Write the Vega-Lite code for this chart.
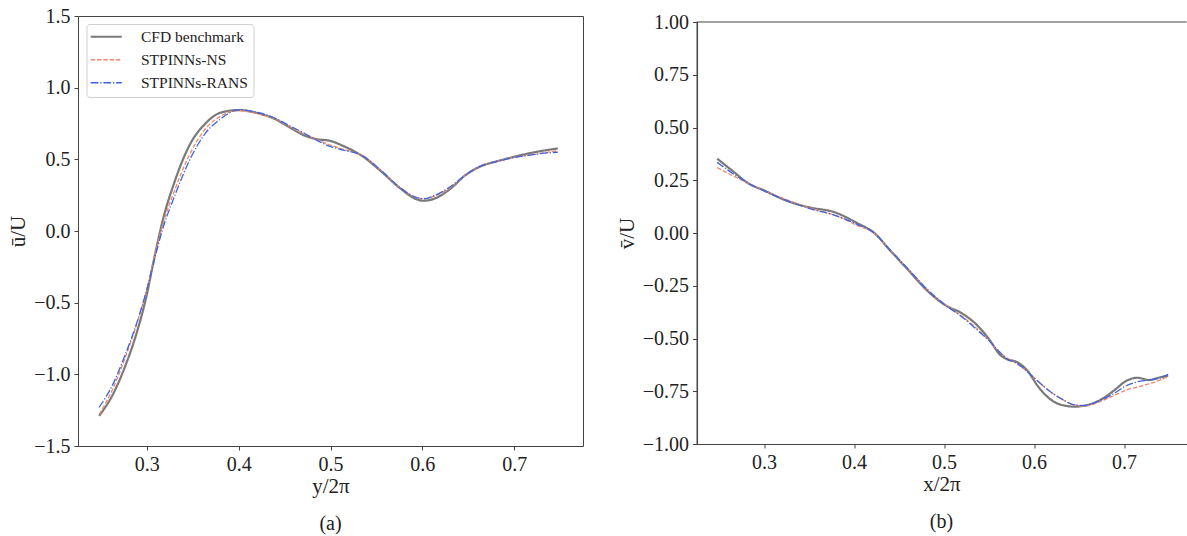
{
  "$schema": "https://vega.github.io/schema/vega-lite/v6.json",
  "padding": {"left": 7, "top": 5, "right": 0, "bottom": 0},
  "background": "white",
  "bounds": "flush",
  "spacing": 113.5,
  "config": {
    "font": "Liberation Serif",
    "axis": {
      "labelFont": "Liberation Serif", "labelFontSize": 20, "labelColor": "#222",
      "titleFont": "Liberation Serif", "titleFontSize": 21, "titleFontWeight": "normal", "titleColor": "#222",
      "tickColor": "#444", "tickSize": 4, "tickWidth": 1, "labelPadding": 4,
      "grid": false, "domain": false, "domainColor": "#444", "domainWidth": 1,
      "labelFlush": false, "labelOverlap": false
    },
    "legend": {
      "title": null, "padding": 5, "rowPadding": 6,
      "symbolType": "M-2.07,0H2.07", "symbolSize": 225, "symbolOffset": 7, "symbolStrokeWidth": 1.4,
      "labelOffset": 27, "labelFont": "Liberation Serif", "labelFontSize": 15.5, "labelColor": "#222",
      "strokeColor": "#d0d0d0", "fillColor": "white", "cornerRadius": 3
    },
    "title": {"font": "Liberation Serif", "fontSize": 20, "fontWeight": "normal", "color": "#222"}
  },
  "datasets": {
    "u": [
      {"x": 0.248, "val": -1.29, "series": "CFD benchmark"},
      {"x": 0.263, "val": -1.14, "series": "CFD benchmark"},
      {"x": 0.276, "val": -0.95, "series": "CFD benchmark"},
      {"x": 0.288, "val": -0.73, "series": "CFD benchmark"},
      {"x": 0.299, "val": -0.47, "series": "CFD benchmark"},
      {"x": 0.309, "val": -0.16, "series": "CFD benchmark"},
      {"x": 0.3175, "val": 0.08, "series": "CFD benchmark"},
      {"x": 0.33, "val": 0.34, "series": "CFD benchmark"},
      {"x": 0.347, "val": 0.605, "series": "CFD benchmark"},
      {"x": 0.3635, "val": 0.748, "series": "CFD benchmark"},
      {"x": 0.38, "val": 0.825, "series": "CFD benchmark"},
      {"x": 0.4, "val": 0.844, "series": "CFD benchmark"},
      {"x": 0.422, "val": 0.82, "series": "CFD benchmark"},
      {"x": 0.4386, "val": 0.784, "series": "CFD benchmark"},
      {"x": 0.4553, "val": 0.724, "series": "CFD benchmark"},
      {"x": 0.472, "val": 0.665, "series": "CFD benchmark"},
      {"x": 0.4846, "val": 0.641, "series": "CFD benchmark"},
      {"x": 0.4996, "val": 0.629, "series": "CFD benchmark"},
      {"x": 0.514, "val": 0.593, "series": "CFD benchmark"},
      {"x": 0.535, "val": 0.521, "series": "CFD benchmark"},
      {"x": 0.5555, "val": 0.414, "series": "CFD benchmark"},
      {"x": 0.5764, "val": 0.295, "series": "CFD benchmark"},
      {"x": 0.593, "val": 0.223, "series": "CFD benchmark"},
      {"x": 0.6015, "val": 0.211, "series": "CFD benchmark"},
      {"x": 0.614, "val": 0.228, "series": "CFD benchmark"},
      {"x": 0.6307, "val": 0.295, "series": "CFD benchmark"},
      {"x": 0.647, "val": 0.39, "series": "CFD benchmark"},
      {"x": 0.664, "val": 0.452, "series": "CFD benchmark"},
      {"x": 0.681, "val": 0.486, "series": "CFD benchmark"},
      {"x": 0.702, "val": 0.521, "series": "CFD benchmark"},
      {"x": 0.7226, "val": 0.55, "series": "CFD benchmark"},
      {"x": 0.7476, "val": 0.576, "series": "CFD benchmark"},

      {"x": 0.248, "val": -1.28, "series": "STPINNs-NS"},
      {"x": 0.263, "val": -1.1, "series": "STPINNs-NS"},
      {"x": 0.276, "val": -0.89, "series": "STPINNs-NS"},
      {"x": 0.288, "val": -0.67, "series": "STPINNs-NS"},
      {"x": 0.299, "val": -0.43, "series": "STPINNs-NS"},
      {"x": 0.309, "val": -0.16, "series": "STPINNs-NS"},
      {"x": 0.3175, "val": 0.05, "series": "STPINNs-NS"},
      {"x": 0.33, "val": 0.28, "series": "STPINNs-NS"},
      {"x": 0.347, "val": 0.54, "series": "STPINNs-NS"},
      {"x": 0.3635, "val": 0.71, "series": "STPINNs-NS"},
      {"x": 0.38, "val": 0.8, "series": "STPINNs-NS"},
      {"x": 0.4, "val": 0.84, "series": "STPINNs-NS"},
      {"x": 0.422, "val": 0.815, "series": "STPINNs-NS"},
      {"x": 0.4386, "val": 0.785, "series": "STPINNs-NS"},
      {"x": 0.4553, "val": 0.73, "series": "STPINNs-NS"},
      {"x": 0.472, "val": 0.675, "series": "STPINNs-NS"},
      {"x": 0.4846, "val": 0.64, "series": "STPINNs-NS"},
      {"x": 0.4996, "val": 0.6, "series": "STPINNs-NS"},
      {"x": 0.514, "val": 0.57, "series": "STPINNs-NS"},
      {"x": 0.535, "val": 0.525, "series": "STPINNs-NS"},
      {"x": 0.5555, "val": 0.42, "series": "STPINNs-NS"},
      {"x": 0.5764, "val": 0.3, "series": "STPINNs-NS"},
      {"x": 0.593, "val": 0.235, "series": "STPINNs-NS"},
      {"x": 0.6015, "val": 0.225, "series": "STPINNs-NS"},
      {"x": 0.614, "val": 0.245, "series": "STPINNs-NS"},
      {"x": 0.6307, "val": 0.305, "series": "STPINNs-NS"},
      {"x": 0.647, "val": 0.39, "series": "STPINNs-NS"},
      {"x": 0.664, "val": 0.455, "series": "STPINNs-NS"},
      {"x": 0.681, "val": 0.485, "series": "STPINNs-NS"},
      {"x": 0.702, "val": 0.515, "series": "STPINNs-NS"},
      {"x": 0.7226, "val": 0.535, "series": "STPINNs-NS"},
      {"x": 0.7476, "val": 0.56, "series": "STPINNs-NS"},

      {"x": 0.248, "val": -1.23, "series": "STPINNs-RANS"},
      {"x": 0.263, "val": -1.07, "series": "STPINNs-RANS"},
      {"x": 0.276, "val": -0.87, "series": "STPINNs-RANS"},
      {"x": 0.288, "val": -0.66, "series": "STPINNs-RANS"},
      {"x": 0.299, "val": -0.43, "series": "STPINNs-RANS"},
      {"x": 0.309, "val": -0.18, "series": "STPINNs-RANS"},
      {"x": 0.3175, "val": 0.02, "series": "STPINNs-RANS"},
      {"x": 0.33, "val": 0.24, "series": "STPINNs-RANS"},
      {"x": 0.347, "val": 0.5, "series": "STPINNs-RANS"},
      {"x": 0.3635, "val": 0.68, "series": "STPINNs-RANS"},
      {"x": 0.38, "val": 0.78, "series": "STPINNs-RANS"},
      {"x": 0.4, "val": 0.845, "series": "STPINNs-RANS"},
      {"x": 0.422, "val": 0.825, "series": "STPINNs-RANS"},
      {"x": 0.4386, "val": 0.79, "series": "STPINNs-RANS"},
      {"x": 0.4553, "val": 0.735, "series": "STPINNs-RANS"},
      {"x": 0.472, "val": 0.68, "series": "STPINNs-RANS"},
      {"x": 0.4846, "val": 0.635, "series": "STPINNs-RANS"},
      {"x": 0.4996, "val": 0.59, "series": "STPINNs-RANS"},
      {"x": 0.514, "val": 0.565, "series": "STPINNs-RANS"},
      {"x": 0.535, "val": 0.525, "series": "STPINNs-RANS"},
      {"x": 0.5555, "val": 0.42, "series": "STPINNs-RANS"},
      {"x": 0.5764, "val": 0.3, "series": "STPINNs-RANS"},
      {"x": 0.593, "val": 0.235, "series": "STPINNs-RANS"},
      {"x": 0.6015, "val": 0.225, "series": "STPINNs-RANS"},
      {"x": 0.614, "val": 0.25, "series": "STPINNs-RANS"},
      {"x": 0.6307, "val": 0.31, "series": "STPINNs-RANS"},
      {"x": 0.647, "val": 0.39, "series": "STPINNs-RANS"},
      {"x": 0.664, "val": 0.455, "series": "STPINNs-RANS"},
      {"x": 0.681, "val": 0.485, "series": "STPINNs-RANS"},
      {"x": 0.702, "val": 0.515, "series": "STPINNs-RANS"},
      {"x": 0.7226, "val": 0.535, "series": "STPINNs-RANS"},
      {"x": 0.7476, "val": 0.55, "series": "STPINNs-RANS"}
    ],
    "v": [
      {"x": 0.248, "val": 0.352, "series": "CFD benchmark"},
      {"x": 0.266, "val": 0.291, "series": "CFD benchmark"},
      {"x": 0.283, "val": 0.234, "series": "CFD benchmark"},
      {"x": 0.3, "val": 0.202, "series": "CFD benchmark"},
      {"x": 0.325, "val": 0.153, "series": "CFD benchmark"},
      {"x": 0.351, "val": 0.121, "series": "CFD benchmark"},
      {"x": 0.378, "val": 0.099, "series": "CFD benchmark"},
      {"x": 0.404, "val": 0.046, "series": "CFD benchmark"},
      {"x": 0.422, "val": 0.002, "series": "CFD benchmark"},
      {"x": 0.44, "val": -0.082, "series": "CFD benchmark"},
      {"x": 0.461, "val": -0.179, "series": "CFD benchmark"},
      {"x": 0.482, "val": -0.276, "series": "CFD benchmark"},
      {"x": 0.501, "val": -0.341, "series": "CFD benchmark"},
      {"x": 0.52, "val": -0.381, "series": "CFD benchmark"},
      {"x": 0.537, "val": -0.438, "series": "CFD benchmark"},
      {"x": 0.55, "val": -0.503, "series": "CFD benchmark"},
      {"x": 0.562, "val": -0.576, "series": "CFD benchmark"},
      {"x": 0.571, "val": -0.6, "series": "CFD benchmark"},
      {"x": 0.579, "val": -0.608, "series": "CFD benchmark"},
      {"x": 0.592, "val": -0.649, "series": "CFD benchmark"},
      {"x": 0.605, "val": -0.73, "series": "CFD benchmark"},
      {"x": 0.6175, "val": -0.786, "series": "CFD benchmark"},
      {"x": 0.63, "val": -0.814, "series": "CFD benchmark"},
      {"x": 0.645, "val": -0.823, "series": "CFD benchmark"},
      {"x": 0.656, "val": -0.818, "series": "CFD benchmark"},
      {"x": 0.6725, "val": -0.794, "series": "CFD benchmark"},
      {"x": 0.689, "val": -0.746, "series": "CFD benchmark"},
      {"x": 0.702, "val": -0.702, "series": "CFD benchmark"},
      {"x": 0.715, "val": -0.686, "series": "CFD benchmark"},
      {"x": 0.7275, "val": -0.697, "series": "CFD benchmark"},
      {"x": 0.738, "val": -0.686, "series": "CFD benchmark"},
      {"x": 0.749, "val": -0.676, "series": "CFD benchmark"},

      {"x": 0.248, "val": 0.31, "series": "STPINNs-NS"},
      {"x": 0.266, "val": 0.27, "series": "STPINNs-NS"},
      {"x": 0.283, "val": 0.235, "series": "STPINNs-NS"},
      {"x": 0.3, "val": 0.2, "series": "STPINNs-NS"},
      {"x": 0.325, "val": 0.158, "series": "STPINNs-NS"},
      {"x": 0.351, "val": 0.118, "series": "STPINNs-NS"},
      {"x": 0.378, "val": 0.085, "series": "STPINNs-NS"},
      {"x": 0.404, "val": 0.035, "series": "STPINNs-NS"},
      {"x": 0.422, "val": 0.0, "series": "STPINNs-NS"},
      {"x": 0.44, "val": -0.08, "series": "STPINNs-NS"},
      {"x": 0.461, "val": -0.175, "series": "STPINNs-NS"},
      {"x": 0.482, "val": -0.27, "series": "STPINNs-NS"},
      {"x": 0.501, "val": -0.338, "series": "STPINNs-NS"},
      {"x": 0.52, "val": -0.395, "series": "STPINNs-NS"},
      {"x": 0.537, "val": -0.455, "series": "STPINNs-NS"},
      {"x": 0.55, "val": -0.51, "series": "STPINNs-NS"},
      {"x": 0.562, "val": -0.565, "series": "STPINNs-NS"},
      {"x": 0.571, "val": -0.595, "series": "STPINNs-NS"},
      {"x": 0.579, "val": -0.615, "series": "STPINNs-NS"},
      {"x": 0.592, "val": -0.655, "series": "STPINNs-NS"},
      {"x": 0.605, "val": -0.705, "series": "STPINNs-NS"},
      {"x": 0.6175, "val": -0.75, "series": "STPINNs-NS"},
      {"x": 0.63, "val": -0.785, "series": "STPINNs-NS"},
      {"x": 0.645, "val": -0.815, "series": "STPINNs-NS"},
      {"x": 0.656, "val": -0.82, "series": "STPINNs-NS"},
      {"x": 0.6725, "val": -0.8, "series": "STPINNs-NS"},
      {"x": 0.689, "val": -0.77, "series": "STPINNs-NS"},
      {"x": 0.702, "val": -0.745, "series": "STPINNs-NS"},
      {"x": 0.715, "val": -0.73, "series": "STPINNs-NS"},
      {"x": 0.7275, "val": -0.715, "series": "STPINNs-NS"},
      {"x": 0.738, "val": -0.7, "series": "STPINNs-NS"},
      {"x": 0.749, "val": -0.68, "series": "STPINNs-NS"},

      {"x": 0.248, "val": 0.335, "series": "STPINNs-RANS"},
      {"x": 0.266, "val": 0.28, "series": "STPINNs-RANS"},
      {"x": 0.283, "val": 0.235, "series": "STPINNs-RANS"},
      {"x": 0.3, "val": 0.2, "series": "STPINNs-RANS"},
      {"x": 0.325, "val": 0.155, "series": "STPINNs-RANS"},
      {"x": 0.351, "val": 0.115, "series": "STPINNs-RANS"},
      {"x": 0.378, "val": 0.085, "series": "STPINNs-RANS"},
      {"x": 0.404, "val": 0.04, "series": "STPINNs-RANS"},
      {"x": 0.422, "val": 0.002, "series": "STPINNs-RANS"},
      {"x": 0.44, "val": -0.08, "series": "STPINNs-RANS"},
      {"x": 0.461, "val": -0.175, "series": "STPINNs-RANS"},
      {"x": 0.482, "val": -0.27, "series": "STPINNs-RANS"},
      {"x": 0.501, "val": -0.34, "series": "STPINNs-RANS"},
      {"x": 0.52, "val": -0.398, "series": "STPINNs-RANS"},
      {"x": 0.537, "val": -0.46, "series": "STPINNs-RANS"},
      {"x": 0.55, "val": -0.51, "series": "STPINNs-RANS"},
      {"x": 0.562, "val": -0.565, "series": "STPINNs-RANS"},
      {"x": 0.571, "val": -0.6, "series": "STPINNs-RANS"},
      {"x": 0.579, "val": -0.612, "series": "STPINNs-RANS"},
      {"x": 0.592, "val": -0.655, "series": "STPINNs-RANS"},
      {"x": 0.605, "val": -0.705, "series": "STPINNs-RANS"},
      {"x": 0.6175, "val": -0.75, "series": "STPINNs-RANS"},
      {"x": 0.63, "val": -0.785, "series": "STPINNs-RANS"},
      {"x": 0.645, "val": -0.815, "series": "STPINNs-RANS"},
      {"x": 0.656, "val": -0.818, "series": "STPINNs-RANS"},
      {"x": 0.6725, "val": -0.795, "series": "STPINNs-RANS"},
      {"x": 0.689, "val": -0.76, "series": "STPINNs-RANS"},
      {"x": 0.702, "val": -0.725, "series": "STPINNs-RANS"},
      {"x": 0.715, "val": -0.705, "series": "STPINNs-RANS"},
      {"x": 0.7275, "val": -0.697, "series": "STPINNs-RANS"},
      {"x": 0.738, "val": -0.69, "series": "STPINNs-RANS"},
      {"x": 0.749, "val": -0.67, "series": "STPINNs-RANS"}
    ],
    "frame": [
      {"x0": 0.225, "xin": 0.2262, "x1": 0.7694, "lo": -1, "hi": 1}
    ]
  },
  "hconcat": [
    {
      "width": 505,
      "height": 430,
      "data": {"name": "u"},
      "view": {"stroke": "#444", "strokeWidth": 1},
      "title": {"text": "(a)", "orient": "bottom", "offset": 18},
      "mark": {"type": "line", "interpolate": "monotone"},
      "encoding": {
        "x": {
          "field": "x", "type": "quantitative",
          "scale": {"domain": [0.225, 0.775], "nice": false, "zero": false},
          "axis": {"title": "y/2π", "values": [0.3, 0.4, 0.5, 0.6, 0.7], "format": ".1f", "titlePadding": 1,
                   "labelFont": "Liberation Serif", "labelFontSize": 20, "titleFont": "Liberation Serif"}
        },
        "y": {
          "field": "val", "type": "quantitative",
          "scale": {"domain": [-1.5, 1.5], "nice": false, "zero": false},
          "axis": {"title": "ū/U", "values": [-1.5, -1, -0.5, 0, 0.5, 1, 1.5], "format": ".1f", "titlePadding": 5,
                   "labelFont": "Liberation Serif", "labelFontSize": 20, "titleFont": "Liberation Serif"}
        },
        "color": {
          "field": "series", "type": "nominal",
          "scale": {"domain": ["CFD benchmark", "STPINNs-NS", "STPINNs-RANS"], "range": ["#7a7a7a", "#f3876a", "#3d63e0"]},
          "legend": {"orient": "none", "legendX": 8.5, "legendY": 8,
            "encode": {"symbols": {"update": {"strokeWidth": {"signal": "datum.value === 'CFD benchmark' ? 2.2 : 1.3"}}}}}
        },
        "strokeDash": {
          "field": "series", "type": "nominal",
          "scale": {"domain": ["CFD benchmark", "STPINNs-NS", "STPINNs-RANS"], "range": [[1, 0], [4.4, 1.9], [7.7, 1.9, 1.2, 1.9]]},
          "legend": {"orient": "none", "legendX": 8.5, "legendY": 8,
            "encode": {"symbols": {"update": {"strokeWidth": {"signal": "datum.value === 'CFD benchmark' ? 2.2 : 1.3"}}}}}
        },
        "strokeWidth": {"condition": {"test": "datum.series === 'CFD benchmark'", "value": 2.2}, "value": 1.3}
      }
    },
    {
      "width": 490,
      "height": 428,
      "view": {"stroke": null},
      "title": {"text": "(b)", "orient": "bottom", "offset": 18},
      "layer": [
        {
          "data": {"name": "v"},
          "mark": {"type": "line", "interpolate": "monotone"},
          "encoding": {
            "x": {
              "field": "x", "type": "quantitative",
              "scale": {"domain": [0.225, 0.7694], "nice": false, "zero": false},
              "axis": {"title": "x/2π", "values": [0.3, 0.4, 0.5, 0.6, 0.7], "format": ".1f", "titlePadding": 1, "domain": true,
                       "labelFont": "Liberation Serif", "labelFontSize": 20, "titleFont": "Liberation Serif"}
            },
            "y": {
              "field": "val", "type": "quantitative",
              "scale": {"domain": [-1, 1], "range": [428, 6], "nice": false, "zero": false},
              "axis": {"title": "v̄/U", "values": [-1, -0.75, -0.5, -0.25, 0, 0.25, 0.5, 0.75, 1], "format": ".2f", "titlePadding": 5, "domain": true,
                       "labelFont": "Liberation Serif", "labelFontSize": 20, "titleFont": "Liberation Serif"}
            },
            "color": {
              "field": "series", "type": "nominal",
              "scale": {"domain": ["CFD benchmark", "STPINNs-NS", "STPINNs-RANS"], "range": ["#7a7a7a", "#f3876a", "#3d63e0"]},
              "legend": {"orient": "none", "legendX": 6.5, "legendY": 14,
                "encode": {"symbols": {"update": {"strokeWidth": {"signal": "datum.value === 'CFD benchmark' ? 2.2 : 1.3"}}}}}
            },
            "strokeDash": {
              "field": "series", "type": "nominal",
              "scale": {"domain": ["CFD benchmark", "STPINNs-NS", "STPINNs-RANS"], "range": [[1, 0], [4.4, 1.9], [7.7, 1.9, 1.2, 1.9]]},
              "legend": {"orient": "none", "legendX": 6.5, "legendY": 14,
                "encode": {"symbols": {"update": {"strokeWidth": {"signal": "datum.value === 'CFD benchmark' ? 2.2 : 1.3"}}}}}
            },
            "strokeWidth": {"condition": {"test": "datum.series === 'CFD benchmark'", "value": 2.2}, "value": 1.3}
          }
        },
        {
          "data": {"name": "frame"},
          "mark": {"type": "rule", "color": "#444", "strokeWidth": 1},
          "encoding": {
            "x": {"field": "xin", "type": "quantitative"},
            "y": {"field": "lo", "type": "quantitative"},
            "y2": {"field": "hi"}
          }
        },
        {
          "data": {"name": "frame"},
          "mark": {"type": "rule", "color": "#444", "strokeWidth": 1},
          "encoding": {
            "y": {"field": "hi", "type": "quantitative"},
            "x": {"field": "x0", "type": "quantitative"},
            "x2": {"field": "x1"}
          }
        }
      ]
    }
  ]
}
